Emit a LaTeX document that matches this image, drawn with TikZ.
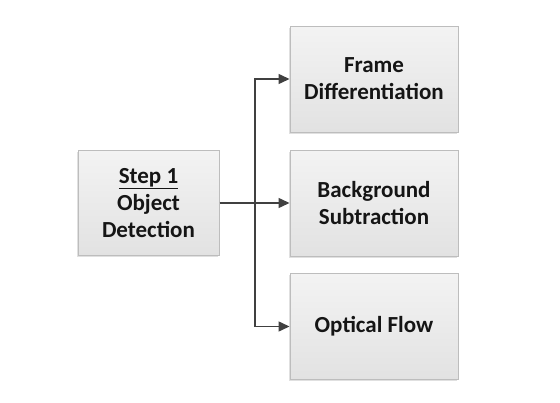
\documentclass[tikz,border=0pt]{standalone}
\usepackage{fontspec}
\setmainfont{Carlito}
\usetikzlibrary{arrows.meta,shadows}
\definecolor{boxborder}{HTML}{BDBDBD}
\definecolor{boxtop}{HTML}{F3F3F3}
\definecolor{boxbot}{HTML}{E2E2E2}
\definecolor{linec}{HTML}{404040}
\definecolor{txt}{HTML}{151515}
\tikzset{
  stepbox/.style={draw=boxborder, line width=1pt, top color=boxtop, bottom color=boxbot,
    minimum width=168pt, minimum height=106pt, align=center, inner sep=0pt,
    font=\bfseries\fontsize{23}{27}\selectfont, text=txt,
    drop shadow={shadow xshift=-1pt, shadow yshift=-1.5pt, fill=black, opacity=0.12}},
  conn/.style={draw=linec, line width=1.5pt, -{Triangle[length=11pt,width=10pt]}}
}
\begin{document}
\begin{tikzpicture}[x=1pt,y=-1pt]
\useasboundingbox (0,0) rectangle (560,402);
\fill[white] (0,0) rectangle (560,402);
\node[stepbox, minimum width=141pt, minimum height=105pt] (src) at (148.5,203) {\underline{Step 1}\\Object\\Detection};
\node[stepbox] (fd) at (374,79) {Frame\\Differentiation};
\node[stepbox] (bs) at (374,203) {Background\\Subtraction};
\node[stepbox] (of) at (374,326.5) {Optical Flow};
\coordinate (j) at (255,203);
\draw[conn] (src.east) -- (bs.west);
\draw[conn] (j) |- (fd.west);
\draw[conn] (j) |- (of.west);
\end{tikzpicture}
\end{document}
